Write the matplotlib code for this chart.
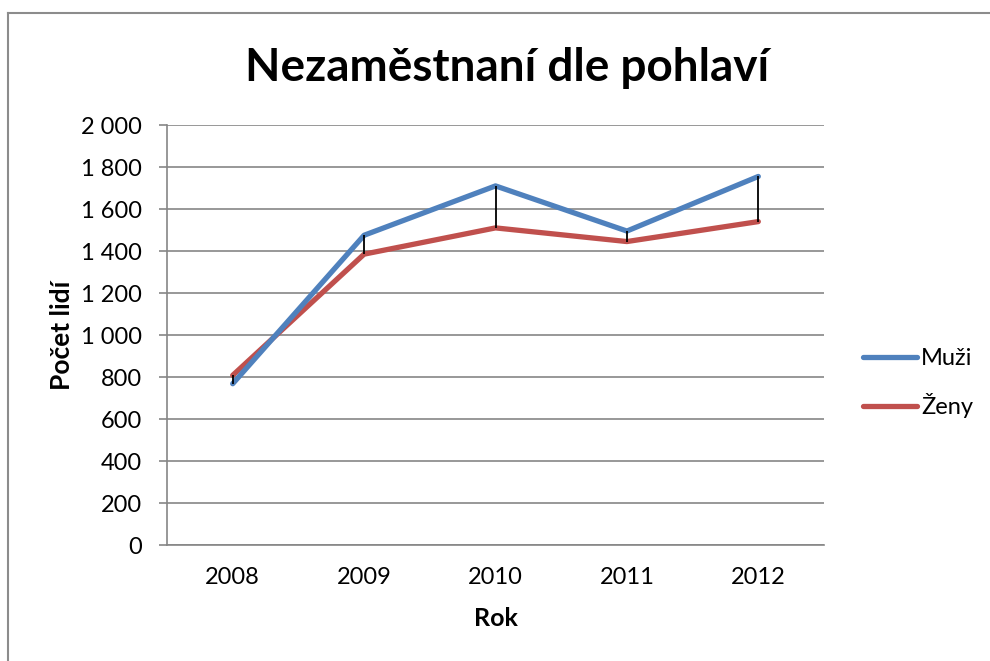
import matplotlib
matplotlib.use("Agg")
import matplotlib.pyplot as plt
from matplotlib.ticker import FuncFormatter, MultipleLocator
from matplotlib.lines import Line2D

years = ["2008", "2009", "2010", "2011", "2012"]
muzi = [768, 1475, 1710, 1495, 1755]
zeny = [808, 1385, 1510, 1445, 1540]
series_names = ["Muži", "Ženy"]
title = "Nezaměstnaní dle pohlaví"
xlabel = "Rok"
ylabel = "Počet lidí"

plt.rcParams['font.family'] = ['Lato', 'DejaVu Sans']

W, H = 990, 661
fig = plt.figure(figsize=(W / 100, H / 100), dpi=100)

# outer border (top and left visible)
fig.add_artist(Line2D([8 / W, 1.0], [1 - 13 / H, 1 - 13 / H], transform=fig.transFigure,
                      color='#8c8c8c', lw=1.5))
fig.add_artist(Line2D([8 / W, 8 / W], [1 - 13 / H, 0.0], transform=fig.transFigure,
                      color='#8c8c8c', lw=1.5))

left, right, top, bottom = 167, 824, 125, 545
ax = fig.add_axes([left / W, 1 - bottom / H, (right - left) / W, (bottom - top) / H])

x = list(range(len(years)))
c_m = '#4F81BD'
c_z = '#C0504D'
ax.plot(x, muzi, color=c_m, lw=3.8, solid_capstyle='round', solid_joinstyle='round', zorder=3, label=series_names[0])
ax.plot(x, zeny, color=c_z, lw=3.8, solid_capstyle='round', solid_joinstyle='round', zorder=2, label=series_names[1])
ax.vlines(x, [min(a, b) for a, b in zip(muzi, zeny)], [max(a, b) for a, b in zip(muzi, zeny)],
          color='black', lw=1.3, zorder=4)

ax.set_xlim(-0.5, len(years) - 0.5)
ax.set_ylim(0, 2000)
ax.yaxis.set_major_locator(MultipleLocator(200))
ax.yaxis.set_major_formatter(FuncFormatter(lambda v, p: f"{int(v):,}".replace(",", " ")))
ax.set_xticks(x)
ax.set_xticklabels(years)

ax.grid(axis='y', color='#868686', lw=1.2)
ax.set_axisbelow(True)
for s in ['top', 'right']:
    ax.spines[s].set_visible(False)
for s in ['left', 'bottom']:
    ax.spines[s].set_color('#868686')
    ax.spines[s].set_linewidth(1.2)

ax.tick_params(axis='y', length=6, width=1.2, color='#868686', pad=12, labelsize=17)
ax.tick_params(axis='x', length=0, pad=16, labelsize=17)

fig.text(507 / W, 1 - 68 / H, title, ha='center', va='center', fontsize=33, fontweight='bold')
fig.text(62 / W, 1 - 335 / H, ylabel, ha='center', va='center', rotation=90, fontsize=19, fontweight='bold')
fig.text(496 / W, 1 - 619 / H, xlabel, ha='center', va='center', fontsize=18, fontweight='bold')

ax.legend(loc='center left', bbox_to_anchor=(863 / W, 1 - 383 / H), bbox_transform=fig.transFigure,
          frameon=False, fontsize=17, handlelength=2.3, handletextpad=0.15, labelspacing=1.0,
          borderpad=0, borderaxespad=0)

fig.savefig("out.png", dpi=100)
